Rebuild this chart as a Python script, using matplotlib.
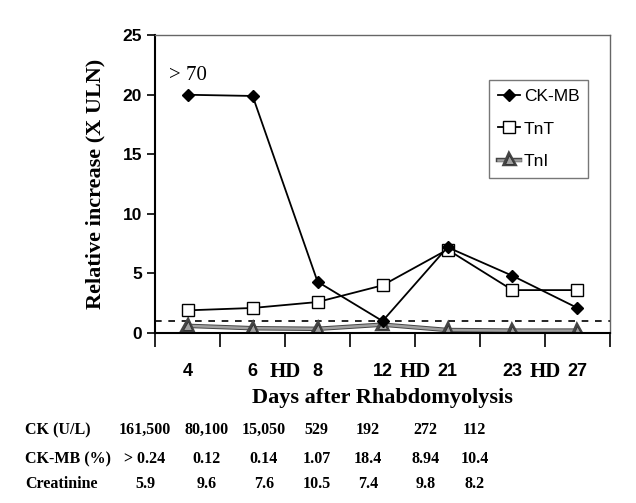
import matplotlib.pyplot as plt
import matplotlib.patheffects as pe
from matplotlib.transforms import blended_transform_factory

# Days after rhabdomyolysis (categorical positions 1..7)
days = ["4", "6", "8", "12", "21", "23", "27"]
hd_after = [2, 4, 6]  # "HD" label between these day indices and the next

ck_mb = [20.0, 19.9, 4.3, 1.0, 7.2, 4.8, 2.1]
tnt = [1.9, 2.1, 2.6, 4.0, 7.0, 3.6, 3.6]
tni = [0.6, 0.4, 0.35, 0.7, 0.25, 0.2, 0.2]
uln = 1.0

row_labels = ["CK (U/L)", "CK-MB (%)", "Creatinine"]
ck_vals = ["161,500", "80,100", "15,050", "529", "192", "272", "112"]
ckmb_pct = ["> 0.24", "0.12", "0.14", "1.07", "18.4", "8.94", "10.4"]
creat = ["5.9", "9.6", "7.6", "10.5", "7.4", "9.8", "8.2"]

sans = "Liberation Sans"
serif = "Liberation Serif"

fig = plt.figure(figsize=(6.36, 5.03), dpi=100, facecolor="white")
ax = fig.add_axes([0.244, 0.338, 0.715, 0.592])

x = list(range(1, len(days) + 1))

ax.axhline(uln, color="black", ls=(0, (4, 4)), lw=1.2, zorder=1)

ax.plot(x, tni, color="#a0a0a0", lw=1.8, marker="^", ms=6.5, mfc="#a0a0a0",
        mec="#333333", mew=0.7, label="TnI", zorder=2,
        path_effects=[pe.Stroke(linewidth=3.2, foreground="#444444"), pe.Normal()])
ax.plot(x, tnt, color="black", lw=1.3, marker="s", ms=8, mfc="white",
        mec="black", mew=1.0, label="TnT", zorder=3)
ax.plot(x, ck_mb, color="black", lw=1.3, marker="D", ms=6, mfc="black",
        mec="black", label="CK-MB", zorder=4)

ax.set_xlim(0.5, len(days) + 0.5)
ax.set_ylim(0, 25)
ax.set_yticks([0, 5, 10, 15, 20, 25])
ax.set_xticks([i + 0.5 for i in range(len(days) + 1)])
ax.set_xticklabels([])
ax.tick_params(axis="x", length=10, width=1.2, direction="out")
ax.tick_params(axis="y", length=6, width=1.2, direction="out", labelsize=12.5)
for lab in ax.get_yticklabels():
    lab.set_fontfamily(sans)
    lab.set_fontweight("bold")
for s in ax.spines.values():
    s.set_linewidth(1.0)
ax.spines["left"].set_linewidth(1.5)
ax.spines["bottom"].set_linewidth(1.5)
ax.spines["top"].set_color("#666666")
ax.spines["right"].set_color("#666666")

# x labels: day numbers and HD markers
tr = blended_transform_factory(ax.transData, ax.transAxes)
for xi, d in zip(x, days):
    ax.text(xi, -0.13, d, transform=tr, ha="center", va="center",
            fontsize=13, fontfamily=sans, fontweight="bold")
for h in hd_after:
    ax.text(h + 0.5, -0.13, "HD", transform=tr, ha="center", va="center",
            fontsize=15, fontfamily=serif, fontweight="bold")
ax.text(0.5, -0.22, "Days after Rhabdomyolysis", transform=ax.transAxes,
        ha="center", va="center", fontsize=16, fontfamily=serif, fontweight="bold")

ax.set_ylabel("Relative increase (X ULN)", fontsize=16, fontfamily=serif,
              fontweight="bold", labelpad=12)

ax.text(x[0], 20.8, "> 70", ha="center", va="bottom", fontsize=15, fontfamily=serif)

handles, labels = ax.get_legend_handles_labels()
order = [2, 1, 0]
leg = ax.legend([handles[i] for i in order], [labels[i] for i in order],
                loc="upper right", bbox_to_anchor=(0.952, 0.849), frameon=True,
                fancybox=False, edgecolor="#555555", handlelength=1.3,
                handletextpad=0.2, borderpad=0.5, labelspacing=1.0,
                borderaxespad=0, prop={"family": sans, "size": 12.5})
leg.get_frame().set_linewidth(1.0)

# table under the chart
col_x = [0.228, 0.325, 0.415, 0.498, 0.579, 0.669, 0.746]
row_y = [0.145, 0.087, 0.037]
for ry, lab, vals in zip(row_y, row_labels, [ck_vals, ckmb_pct, creat]):
    fig.text(0.04, ry, lab, ha="left", va="center", fontsize=11.5,
             fontfamily=serif, fontweight="bold")
    for cx, v in zip(col_x, vals):
        fig.text(cx, ry, v, ha="center", va="center", fontsize=11.5,
                 fontfamily=serif, fontweight="bold")

fig.savefig("out.png", dpi=100, facecolor=fig.get_facecolor())
